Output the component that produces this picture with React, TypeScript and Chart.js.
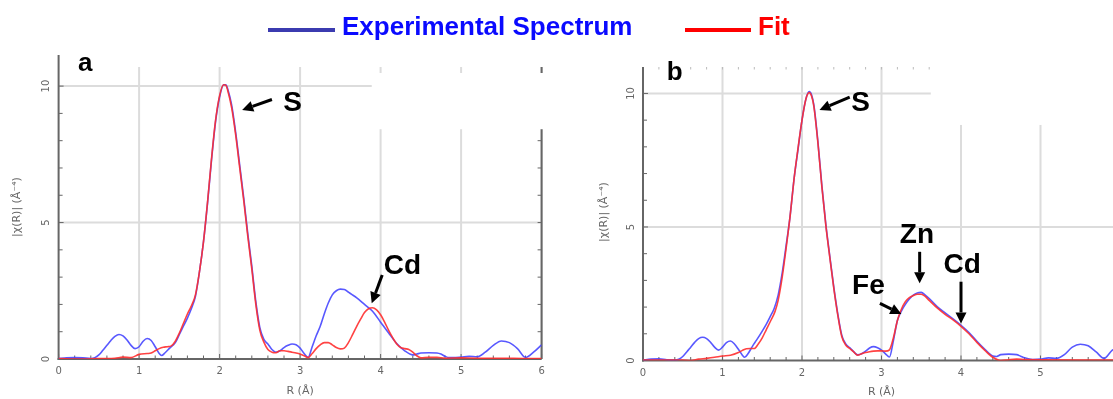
import React, { useEffect, useRef } from 'react';
import { Chart, registerables } from 'chart.js';

Chart.register(...registerables);

// ---------- DATA ----------
// Panel a : experimental spectrum
const rExpA = [0.0, 0.1, 0.2, 0.3, 0.4, 0.45, 0.5, 0.55, 0.6, 0.65, 0.7, 0.75, 0.8, 0.85, 0.9, 0.95, 1.0, 1.05, 1.1, 1.15, 1.2, 1.25, 1.28, 1.32, 1.38, 1.45, 1.5, 1.55, 1.6, 1.65, 1.7, 1.75, 1.8, 1.85, 1.9, 1.95, 2.0, 2.05, 2.08, 2.1, 2.15, 2.2, 2.25, 2.3, 2.35, 2.4, 2.45, 2.5, 2.55, 2.6, 2.65, 2.7, 2.75, 2.8, 2.85, 2.9, 2.95, 3.0, 3.05, 3.1, 3.15, 3.2, 3.25, 3.3, 3.35, 3.4, 3.45, 3.5, 3.55, 3.6, 3.65, 3.7, 3.8, 3.9, 4.0, 4.1, 4.2, 4.3, 4.4, 4.45, 4.5, 4.6, 4.7, 4.75, 4.8, 4.85, 4.9, 5.0, 5.1, 5.2, 5.3, 5.4, 5.5, 5.6, 5.7, 5.8, 5.9, 6.0];
const expA = [0.02, 0.04, 0.05, 0.04, 0.02, 0.05, 0.15, 0.32, 0.5, 0.68, 0.83, 0.9, 0.85, 0.7, 0.5, 0.38, 0.45, 0.65, 0.75, 0.68, 0.45, 0.2, 0.13, 0.22, 0.4, 0.6, 0.9, 1.2, 1.5, 1.85, 2.3, 3.2, 4.3, 5.7, 7.3, 8.7, 9.6, 10.05, 10.05, 9.9, 9.3, 8.3, 7.1, 5.9, 4.6, 3.4, 2.1, 1.15, 0.72, 0.55, 0.35, 0.25, 0.3, 0.42, 0.5, 0.55, 0.52, 0.4, 0.2, 0.06, 0.45, 0.85, 1.2, 1.65, 2.05, 2.35, 2.5, 2.56, 2.55, 2.45, 2.35, 2.25, 2.0, 1.75, 1.35, 0.95, 0.57, 0.3, 0.15, 0.18, 0.22, 0.23, 0.22, 0.18, 0.1, 0.05, 0.05, 0.07, 0.1, 0.08, 0.25, 0.5, 0.66, 0.6, 0.38, 0.06, 0.25, 0.52];

// Panel a : fit
const rFitA = [0.0, 0.3, 0.5, 0.6, 0.7, 0.8, 0.9, 1.0, 1.1, 1.15, 1.2, 1.25, 1.3, 1.35, 1.4, 1.45, 1.5, 1.55, 1.6, 1.65, 1.7, 1.75, 1.8, 1.85, 1.9, 1.95, 2.0, 2.05, 2.08, 2.1, 2.15, 2.2, 2.25, 2.3, 2.35, 2.4, 2.45, 2.5, 2.55, 2.6, 2.65, 2.7, 2.75, 2.8, 2.85, 2.9, 2.95, 3.0, 3.05, 3.1, 3.15, 3.2, 3.25, 3.3, 3.35, 3.4, 3.45, 3.5, 3.55, 3.6, 3.65, 3.7, 3.75, 3.8, 3.85, 3.9, 3.95, 4.0, 4.05, 4.1, 4.15, 4.2, 4.25, 4.3, 4.35, 4.4, 4.45, 4.5, 4.6, 4.7, 4.8, 5.0, 5.2, 5.5, 5.8, 6.0];
const fitA = [0.02, 0.0, 0.02, 0.02, 0.03, 0.07, 0.05, 0.17, 0.2, 0.22, 0.3, 0.38, 0.43, 0.45, 0.48, 0.65, 0.95, 1.3, 1.65, 1.95, 2.35, 3.2, 4.3, 5.75, 7.35, 8.75, 9.65, 10.05, 10.02, 9.85, 9.2, 8.2, 7.0, 5.8, 4.5, 3.3, 2.0, 1.05, 0.62, 0.35, 0.25, 0.23, 0.3, 0.3, 0.28, 0.25, 0.22, 0.18, 0.12, 0.05, 0.2, 0.38, 0.52, 0.6, 0.6, 0.52, 0.42, 0.37, 0.4, 0.6, 0.88, 1.18, 1.45, 1.7, 1.84, 1.88, 1.8, 1.62, 1.35, 1.05, 0.78, 0.55, 0.42, 0.38, 0.35, 0.25, 0.12, 0.04, 0.06, 0.06, 0.03, 0.04, 0.03, 0.03, 0.02, 0.02];

// Panel b : experimental spectrum
const rExpB = [0.0, 0.1, 0.2, 0.3, 0.4, 0.45, 0.5, 0.55, 0.6, 0.65, 0.7, 0.75, 0.8, 0.85, 0.9, 0.95, 1.0, 1.05, 1.1, 1.15, 1.2, 1.25, 1.28, 1.32, 1.38, 1.43, 1.5, 1.55, 1.6, 1.65, 1.7, 1.75, 1.8, 1.85, 1.9, 1.95, 2.0, 2.05, 2.09, 2.12, 2.15, 2.2, 2.25, 2.3, 2.35, 2.4, 2.45, 2.5, 2.55, 2.6, 2.65, 2.7, 2.75, 2.8, 2.85, 2.9, 2.95, 3.0, 3.05, 3.1, 3.15, 3.2, 3.25, 3.3, 3.35, 3.4, 3.45, 3.5, 3.55, 3.6, 3.7, 3.8, 3.9, 4.0, 4.1, 4.2, 4.3, 4.4, 4.45, 4.5, 4.6, 4.7, 4.75, 4.8, 4.9, 5.0, 5.1, 5.2, 5.3, 5.4, 5.5, 5.6, 5.7, 5.8, 5.9, 6.0];
const expB = [0.02, 0.05, 0.06, 0.03, 0.02, 0.05, 0.15, 0.32, 0.5, 0.68, 0.82, 0.87, 0.82, 0.68, 0.5, 0.39, 0.5, 0.67, 0.73, 0.62, 0.42, 0.2, 0.12, 0.25, 0.55, 0.77, 1.1, 1.35, 1.64, 1.95, 2.45, 3.26, 4.3, 5.4, 6.8, 7.9, 9.0, 9.8, 10.07, 9.95, 9.55, 8.2, 6.55, 5.1, 3.9, 2.75, 1.75, 0.95, 0.62, 0.48, 0.33, 0.21, 0.25, 0.35, 0.47, 0.52, 0.48, 0.39, 0.25, 0.13, 0.75, 1.5, 1.85, 2.1, 2.3, 2.45, 2.53, 2.55, 2.45, 2.32, 2.02, 1.78, 1.56, 1.32, 1.05, 0.72, 0.42, 0.17, 0.15, 0.22, 0.24, 0.22, 0.16, 0.1, 0.04, 0.05, 0.1, 0.08, 0.22, 0.5, 0.61, 0.55, 0.32, 0.08, 0.38, 0.55];

// Panel b : fit
const rFitB = [0.0, 0.3, 0.5, 0.6, 0.7, 0.8, 0.9, 1.0, 1.1, 1.2, 1.25, 1.3, 1.35, 1.4, 1.45, 1.5, 1.55, 1.6, 1.66, 1.7, 1.75, 1.8, 1.85, 1.9, 1.95, 2.0, 2.05, 2.09, 2.12, 2.15, 2.2, 2.25, 2.3, 2.35, 2.4, 2.45, 2.5, 2.55, 2.6, 2.65, 2.7, 2.75, 2.8, 2.85, 2.9, 2.95, 3.0, 3.05, 3.1, 3.15, 3.2, 3.25, 3.3, 3.35, 3.4, 3.45, 3.5, 3.55, 3.6, 3.7, 3.8, 3.9, 4.0, 4.1, 4.2, 4.3, 4.4, 4.5, 4.6, 4.7, 4.8, 5.0, 5.5, 6.0];
const fitB = [0.02, 0.02, 0.02, 0.0, 0.05, 0.08, 0.12, 0.17, 0.2, 0.3, 0.38, 0.44, 0.45, 0.45, 0.62, 0.85, 1.15, 1.45, 1.83, 2.25, 3.1, 4.2, 5.4, 6.8, 7.95, 9.0, 9.8, 10.03, 9.9, 9.5, 8.15, 6.5, 5.05, 3.85, 2.7, 1.7, 0.9, 0.58, 0.45, 0.32, 0.2, 0.25, 0.3, 0.33, 0.35, 0.36, 0.36, 0.35, 0.4, 0.85, 1.5, 1.92, 2.2, 2.35, 2.43, 2.48, 2.48, 2.4, 2.25, 1.97, 1.73, 1.52, 1.28, 1.0, 0.68, 0.38, 0.12, 0.0, 0.03, 0.05, 0.04, 0.03, 0.02, 0.02];

// Axis ticks
const xTickValues = [0, 1, 2, 3, 4, 5, 6];
const xTickLabels = ['0', '1', '2', '3', '4', '5', '6'];
const yTickValues = [0, 5, 10];
const yTickLabels = ['0', '5', '10'];

const legendLabels = ['Experimental Spectrum', 'Fit'];

// ---------- STYLE ----------
const EXP_COLOR = 'rgba(70,70,255,0.9)';
const FIT_COLOR = 'rgba(255,45,45,0.9)';
const GRID_COLOR = '#dcdcdc';
const AXIS_COLOR = '#666';
const LABEL_COLOR = '#666';
const LABEL_FONT = '10px "DejaVu Sans"';
const ANNO_FONT = 'bold 28px "Liberation Sans", Arial, sans-serif';

type Anno = { text: string; x: number; y: number; size?: number };
type Arrow = { x0: number; y0: number; x1: number; y1: number };

type PanelCfg = {
  id: string;
  left: number;
  width: number;
  padding: { left: number; right: number; top: number; bottom: number };
  yMax: number;
  rExp: number[];
  exp: number[];
  rFit: number[];
  fit: number[];
  rightAxis: boolean;
  topTicks: boolean;
  axisExtraTop: number;
  mask: { x0: number; x1: number; y0: number; y1: number };
  letter: Anno;
  annos: Anno[];
  arrows: Arrow[];
  xTitleY: number;
  xLabelY: number;
  yTitleX: number;
  yTitleY: number;
  yLabelOffset: number;
};

const panels: PanelCfg[] = [
  {
    id: 'a',
    left: 0,
    width: 556,
    padding: { left: 58.6, right: 14.4, top: 67, bottom: 40 },
    yMax: 10.7,
    rExp: rExpA, exp: expA, rFit: rFitA, fit: fitA,
    rightAxis: true,
    topTicks: false,
    axisExtraTop: 12,
    mask: { x0: 3.89, x1: 6.3, y0: 10.48, y1: 8.42 },
    letter: { text: 'a', x: 0.24, y: 10.55, size: 26 },
    annos: [
      { text: 'S', x: 2.79, y: 9.1 },
      { text: 'Cd', x: 4.04, y: 3.1 },
    ],
    arrows: [
      { x0: 2.65, y0: 9.51, x1: 2.28, y1: 9.12 },
      { x0: 4.02, y0: 3.08, x1: 3.89, y1: 2.04 },
    ],
    xTitleY: 391,
    xLabelY: 371,
    yTitleX: 17,
    yTitleY: 207,
    yLabelOffset: 12,
  },
  {
    id: 'b',
    left: 556,
    width: 600,
    padding: { left: 87, right: 36, top: 67, bottom: 38.5 },
    yMax: 10.99,
    rExp: rExpB, exp: expB, rFit: rFitB, fit: fitB,
    rightAxis: false,
    topTicks: true,
    axisExtraTop: 0,
    mask: { x0: 3.62, x1: 7, y0: 11.5, y1: 8.82 },
    letter: { text: 'b', x: 0.3, y: 10.5, size: 26 },
    annos: [
      { text: 'S', x: 2.62, y: 9.36 },
      { text: 'Zn', x: 3.23, y: 4.39 },
      { text: 'Cd', x: 3.78, y: 3.27 },
      { text: 'Fe', x: 2.63, y: 2.49 },
    ],
    arrows: [
      { x0: 2.6, y0: 9.86, x1: 2.22, y1: 9.38 },
      { x0: 3.48, y0: 4.07, x1: 3.48, y1: 2.89 },
      { x0: 4.0, y0: 2.95, x1: 4.0, y1: 1.39 },
      { x0: 2.98, y0: 2.14, x1: 3.25, y1: 1.74 },
    ],
    xTitleY: 392,
    xLabelY: 373,
    yTitleX: 48,
    yTitleY: 212,
    yLabelOffset: 12,
  },
];

function line(ctx: CanvasRenderingContext2D, x0: number, y0: number, x1: number, y1: number) {
  ctx.beginPath();
  ctx.moveTo(x0, y0);
  ctx.lineTo(x1, y1);
  ctx.stroke();
}

function makePlugin(cfg: PanelCfg) {
  return {
    id: 'deco_' + cfg.id,
    beforeDatasetsDraw(chart: any) {
      const ctx: CanvasRenderingContext2D = chart.ctx;
      const ca = chart.chartArea;
      const xs = chart.scales.x;
      const ys = chart.scales.y;
      ctx.save();
      // grid
      ctx.strokeStyle = GRID_COLOR;
      ctx.lineWidth = 2;
      for (const v of xTickValues) {
        if (v === 0) continue;
        const px = xs.getPixelForValue(v);
        line(ctx, px, ca.top, px, ca.bottom);
      }
      for (const v of yTickValues) {
        if (v === 0) continue;
        const py = ys.getPixelForValue(v);
        line(ctx, ca.left, py, ca.right, py);
      }
      // top ticks
      if (cfg.topTicks) {
        ctx.strokeStyle = '#bbb';
        ctx.lineWidth = 1;
        for (let i = 0; i <= 30; i++) {
          const px = xs.getPixelForValue(i / 5);
          line(ctx, px, ca.top, px, ca.top + 2.5);
        }
      }
      // right axis
      if (cfg.rightAxis) {
        ctx.strokeStyle = AXIS_COLOR;
        ctx.lineWidth = 2;
        const rx = xs.getPixelForValue(6);
        line(ctx, rx, ca.top, rx, ca.bottom);
        ctx.lineWidth = 1;
        for (let i = 0; i <= 10; i++) {
          const py = ys.getPixelForValue(i);
          line(ctx, rx, py, rx - 4, py);
        }
      }
      // mask (blank area of the original figure)
      ctx.fillStyle = '#ffffff';
      const mx0 = xs.getPixelForValue(cfg.mask.x0);
      const mx1 = xs.getPixelForValue(cfg.mask.x1);
      const my0 = ys.getPixelForValue(cfg.mask.y0);
      const my1 = ys.getPixelForValue(cfg.mask.y1);
      ctx.fillRect(mx0, my0, mx1 - mx0, my1 - my0);
      // axes
      ctx.strokeStyle = AXIS_COLOR;
      ctx.lineWidth = 2;
      line(ctx, ca.left, ca.top - cfg.axisExtraTop, ca.left, ca.bottom + 1);
      line(ctx, ca.left - 1, ca.bottom, ca.right, ca.bottom);
      ctx.lineWidth = 1;
      for (let i = 0; i <= 30; i++) {
        const px = xs.getPixelForValue(i / 5);
        const len = i % 5 === 0 ? 5 : 3.5;
        line(ctx, px, ca.bottom, px, ca.bottom - len);
      }
      for (let i = 0; i <= 10; i++) {
        const py = ys.getPixelForValue(i);
        const len = i % 5 === 0 ? 5 : 4;
        line(ctx, ca.left, py, ca.left + len, py);
      }
      ctx.restore();
    },
    afterDraw(chart: any) {
      const ctx: CanvasRenderingContext2D = chart.ctx;
      const ca = chart.chartArea;
      const xs = chart.scales.x;
      const ys = chart.scales.y;
      ctx.save();
      // tick labels
      ctx.fillStyle = LABEL_COLOR;
      ctx.font = LABEL_FONT;
      ctx.textAlign = 'center';
      ctx.textBaseline = 'middle';
      xTickValues.forEach((v, i) => {
        ctx.fillText(xTickLabels[i], xs.getPixelForValue(v), cfg.xLabelY);
      });
      yTickValues.forEach((v, i) => {
        ctx.save();
        ctx.translate(ca.left - cfg.yLabelOffset, ys.getPixelForValue(v));
        ctx.rotate(-Math.PI / 2);
        ctx.fillText(yTickLabels[i], 0, 0);
        ctx.restore();
      });
      // axis titles
      ctx.font = '11px "DejaVu Sans"';
      ctx.fillText('R (\u00C5)', (ca.left + ca.right) / 2, cfg.xTitleY);
      ctx.save();
      ctx.translate(cfg.yTitleX, cfg.yTitleY);
      ctx.rotate(-Math.PI / 2);
      ctx.fillText('|\u03C7(R)| (\u00C5\u207B\u2074)', 0, 0);
      ctx.restore();
      // annotations
      ctx.fillStyle = '#000';
      ctx.textAlign = 'left';
      ctx.textBaseline = 'alphabetic';
      const all = [cfg.letter, ...cfg.annos];
      for (const a of all) {
        ctx.font = a.size ? `bold ${a.size}px "Liberation Sans", Arial, sans-serif` : ANNO_FONT;
        ctx.fillText(a.text, xs.getPixelForValue(a.x), ys.getPixelForValue(a.y));
      }
      ctx.strokeStyle = '#000';
      ctx.lineWidth = 3;
      for (const ar of cfg.arrows) {
        const x0 = xs.getPixelForValue(ar.x0);
        const y0 = ys.getPixelForValue(ar.y0);
        const x1 = xs.getPixelForValue(ar.x1);
        const y1 = ys.getPixelForValue(ar.y1);
        const ang = Math.atan2(y1 - y0, x1 - x0);
        const hl = 11;
        const hw = 5.5;
        const bx = x1 - hl * Math.cos(ang);
        const by = y1 - hl * Math.sin(ang);
        line(ctx, x0, y0, bx, by);
        ctx.beginPath();
        ctx.moveTo(x1, y1);
        ctx.lineTo(bx + hw * Math.sin(ang), by - hw * Math.cos(ang));
        ctx.lineTo(bx - hw * Math.sin(ang), by + hw * Math.cos(ang));
        ctx.closePath();
        ctx.fill();
      }
      ctx.restore();
    },
  };
}

function Panel({ cfg }: { cfg: PanelCfg }) {
  const ref = useRef<HTMLCanvasElement | null>(null);
  useEffect(() => {
    if (!ref.current) return;
    const chart = new Chart(ref.current, {
      type: 'line',
      data: {
        datasets: [
          {
            label: legendLabels[1],
            data: cfg.rFit.map((r, i) => ({ x: r, y: cfg.fit[i] })),
            borderColor: FIT_COLOR,
            borderWidth: 1.6,
            pointRadius: 0,
            cubicInterpolationMode: 'monotone',
            fill: false,
          },
          {
            label: legendLabels[0],
            data: cfg.rExp.map((r, i) => ({ x: r, y: cfg.exp[i] })),
            borderColor: EXP_COLOR,
            borderWidth: 1.6,
            pointRadius: 0,
            cubicInterpolationMode: 'monotone',
            fill: false,
          },
        ],
      },
      options: {
        responsive: false,
        animation: false,
        devicePixelRatio: 1,
        layout: { padding: cfg.padding },
        plugins: { legend: { display: false }, tooltip: { enabled: false }, title: { display: false } },
        scales: {
          x: { type: 'linear', min: 0, max: 6, display: false },
          y: { type: 'linear', min: 0, max: cfg.yMax, display: false },
        },
      } as any,
      plugins: [makePlugin(cfg) as any],
    });
    return () => chart.destroy();
  }, [cfg]);
  return (
    <canvas
      ref={ref}
      width={cfg.width}
      height={399}
      style={{ position: 'absolute', left: cfg.left, top: 0, width: cfg.width, height: 399 }}
    />
  );
}

export default function App() {
  const textStyle: React.CSSProperties = {
    position: 'absolute',
    top: 13,
    fontFamily: '"Liberation Sans", Arial, sans-serif',
    fontWeight: 'bold',
    fontSize: 26,
    lineHeight: '26px',
    whiteSpace: 'nowrap',
  };
  return (
    <div
      style={{
        position: 'absolute',
        left: 0,
        top: 0,
        width: 1113,
        height: 399,
        overflow: 'hidden',
        background: '#fff',
      }}
    >
      <Panel cfg={panels[0]} />
      <Panel cfg={panels[1]} />
      <div style={{ position: 'absolute', left: 268, top: 28, width: 67, height: 4, background: '#3b3bb0' }} />
      <div style={{ ...textStyle, left: 342, color: '#0a0aff' }}>{legendLabels[0]}</div>
      <div style={{ position: 'absolute', left: 685, top: 28, width: 66, height: 4, background: '#ff0000' }} />
      <div style={{ ...textStyle, left: 758, color: '#ff0000' }}>{legendLabels[1]}</div>
    </div>
  );
}
